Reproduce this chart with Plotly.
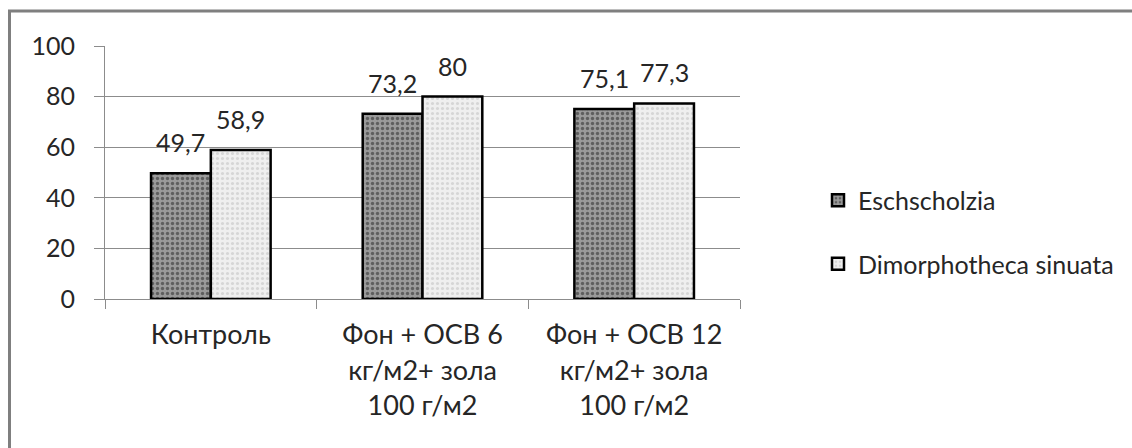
import plotly.graph_objects as go

categories = ["Контроль", "Фон + ОСВ 6<br>кг/м2+ зола<br>100 г/м2", "Фон + ОСВ 12<br>кг/м2+ зола<br>100 г/м2"]
series_names = ["Eschscholzia", "Dimorphotheca sinuata"]
eschscholzia = [49.7, 73.2, 75.1]
dimorphotheca = [58.9, 80, 77.3]
y_ticks = [0, 20, 40, 60, 80, 100]

W, H = 1132, 448
L, R, T, B = 105, W - 740, 46, H - 299
pw, ph = W - L - R, H - T - B
BARGAP = 0.435

def fmt(v):
    return f"{v:g}".replace(".", ",")

FONT = "Lato"
TXT = "#262626"
fig = go.Figure()
styles = [
    dict(bg="#9a9a9a", fg="#5e5e5e", size=5, sol=0.35),
    dict(bg="#efefef", fg="#d6d6d6", size=5, sol=0.3),
]
all_series = [eschscholzia, dimorphotheca]
for name, vals, st, grp in zip(series_names, all_series, styles, ["a", "b"]):
    fig.add_trace(go.Bar(
        x=categories, y=vals, name=name, legendgroup=grp,
        marker=dict(color=st["bg"], line=dict(color="#000000", width=2.5),
                    pattern=dict(shape=".", bgcolor=st["bg"], fgcolor=st["fg"],
                                 size=st["size"], solidity=st["sol"], fillmode="replace")),
    ))

# data labels, placed at each bar's top through the axes
cat_w = pw / len(categories)
bar_w = cat_w * (1 - BARGAP) / len(all_series)
for si, vals in enumerate(all_series):
    off = (si - (len(all_series) - 1) / 2) * bar_w
    for c, v in zip(categories, vals):
        fig.add_annotation(x=c, y=v, xref="x", yref="y", text=fmt(v), showarrow=False,
                           xshift=off, yshift=14, yanchor="bottom",
                           font=dict(size=25, color=TXT, family=FONT))

fig.update_layout(
    width=W, height=H,
    margin=dict(l=L, r=R, t=T, b=B),
    paper_bgcolor="white", plot_bgcolor="white",
    barmode="group", bargap=BARGAP, bargroupgap=0,
    font=dict(family=FONT, size=24, color=TXT),
    showlegend=True,
    legend=dict(x=(818 - L) / pw, xanchor="left", y=(299 - 232) / ph, yanchor="middle",
                font=dict(size=25, color=TXT, family=FONT),
                traceorder="grouped", tracegroupgap=28, bgcolor="rgba(0,0,0,0)"),
    xaxis=dict(showline=True, linecolor="#8c8c8c", linewidth=1,
               ticks="outside", ticklen=9, tickcolor="#8c8c8c", tickson="boundaries",
               ticklabelstandoff=12,
               tickfont=dict(size=27, color=TXT, family=FONT)),
    yaxis=dict(range=[0, 100], tickvals=y_ticks, showline=True, linecolor="#8c8c8c", linewidth=1,
               showgrid=True, gridcolor="#8c8c8c", gridwidth=1, zeroline=False,
               ticks="outside", ticklen=10, tickcolor="#8c8c8c", ticklabelstandoff=14,
               tickfont=dict(size=25, color=TXT, family=FONT)),
)

# outer chart frame (right and bottom edges lie outside the image)
fx0 = (9.5 - L) / pw
fy1 = (299 - 11) / ph
fig.add_shape(type="rect", xref="paper", yref="paper",
              x0=fx0, x1=(W + 20 - L) / pw, y0=(299 - (H + 20)) / ph, y1=fy1,
              line=dict(color="#7f7f7f", width=3), fillcolor="rgba(0,0,0,0)", layer="above")

fig.write_html("out.html")
